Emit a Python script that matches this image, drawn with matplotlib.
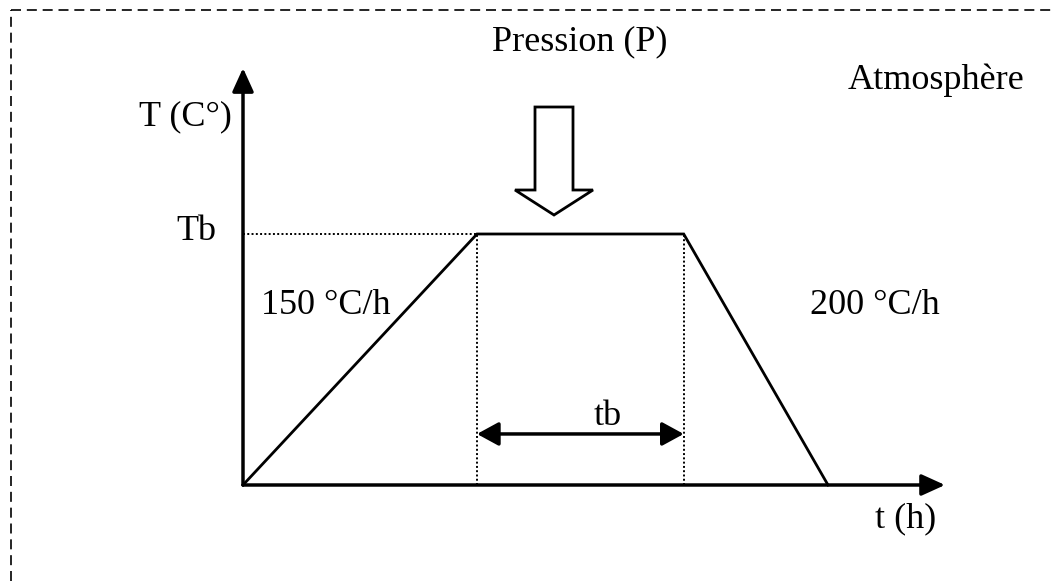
import matplotlib.pyplot as plt
from matplotlib.lines import Line2D
from matplotlib.patches import FancyArrow

plt.rcParams['font.family'] = ['Liberation Serif', 'DejaVu Serif']

# schematic sintering cycle: time (h, arbitrary scale) and temperature
t_profile = [0.0, 6.0, 11.3, 15.0]
T_profile = [0.0, 900.0, 900.0, 0.0]
t_hold = (t_profile[1], t_profile[2])
Tb = T_profile[1]
t_axis_end = 18.0
T_axis_end = 1495.0
rate_up = "150 °C/h"
rate_down = "200 °C/h"

# pixel mapping used for the layout (origin of the axes at 243,485 px)
W, H = 1055, 581
x0, y0 = 243, 485
sx, sy = 39.0, 251 / Tb

fig = plt.figure(figsize=(W / 100, H / 100), dpi=100)
ax = fig.add_axes([0, 0, 1, 1])
ax.set_xlim(-x0 / sx, (W - x0) / sx)
ax.set_ylim(-(H - y0) / sy, y0 / sy)
ax.axis('off')


def px(x, y):
    return (x - x0) / sx, (y0 - y) / sy


# dashed frame (only top and left edges are in view)
dash = dict(color='black', lw=1.2, ls=(0, (6, 3.5)))
fig.add_artist(Line2D([11 / W, 11 / W], [0, 1 - 10 / H], **dash))
fig.add_artist(Line2D([11 / W, 1], [1 - 10 / H, 1 - 10 / H], **dash))

# axes with arrows
head = dict(arrowstyle='-|>,head_length=0.55,head_width=0.25', color='black', lw=2.5,
            mutation_scale=26, shrinkA=0, shrinkB=0)
ax.annotate('', xy=(0, T_axis_end), xytext=(0, 0), arrowprops=head)
ax.annotate('', xy=(t_axis_end, 0), xytext=(0, 0), arrowprops=head)

# temperature profile
ax.plot(t_profile, T_profile, color='black', lw=2, solid_joinstyle='miter')

# dotted guides
ax.plot([0, t_hold[0]], [Tb, Tb], color='black', lw=1.4, ls=(0, (1, 1.2)))
for tx in t_hold:
    ax.plot([tx, tx], [0, Tb], color='black', lw=1.4, ls=(0, (1, 1.2)))

# hold duration arrow
ax.annotate('', xy=(t_hold[1], 183), xytext=(t_hold[0], 183),
            arrowprops=dict(arrowstyle='<|-|>,head_length=0.55,head_width=0.3',
                            color='black', lw=2.5, mutation_scale=24,
                            shrinkA=0, shrinkB=0))

# pressure arrow (hollow)
ax_x, ax_top = px(554, 107)
_, ax_tip = px(554, 215)
ax.add_patch(FancyArrow(ax_x, ax_top, 0, ax_tip - ax_top, width=38 / sx,
                        head_width=78 / sx, head_length=25 / sy,
                        length_includes_head=True, facecolor='white',
                        edgecolor='black', lw=2, joinstyle='miter'))

fs = 26
labels = [
    ("Pression (P)", 580, 50),
    ("Atmosphère", 936, 89),
    ("T (C°)", 185, 125),
    ("Tb", 196, 240),
    (rate_up, 326, 314),
    (rate_down, 875, 314),
    ("tb", 608, 425),
    ("t (h)", 906, 527),
]
for txt, x, y in labels:
    ax.text(*px(x, y), txt, fontsize=fs, ha='center', va='baseline')

fig.savefig('out.png', dpi=100)
